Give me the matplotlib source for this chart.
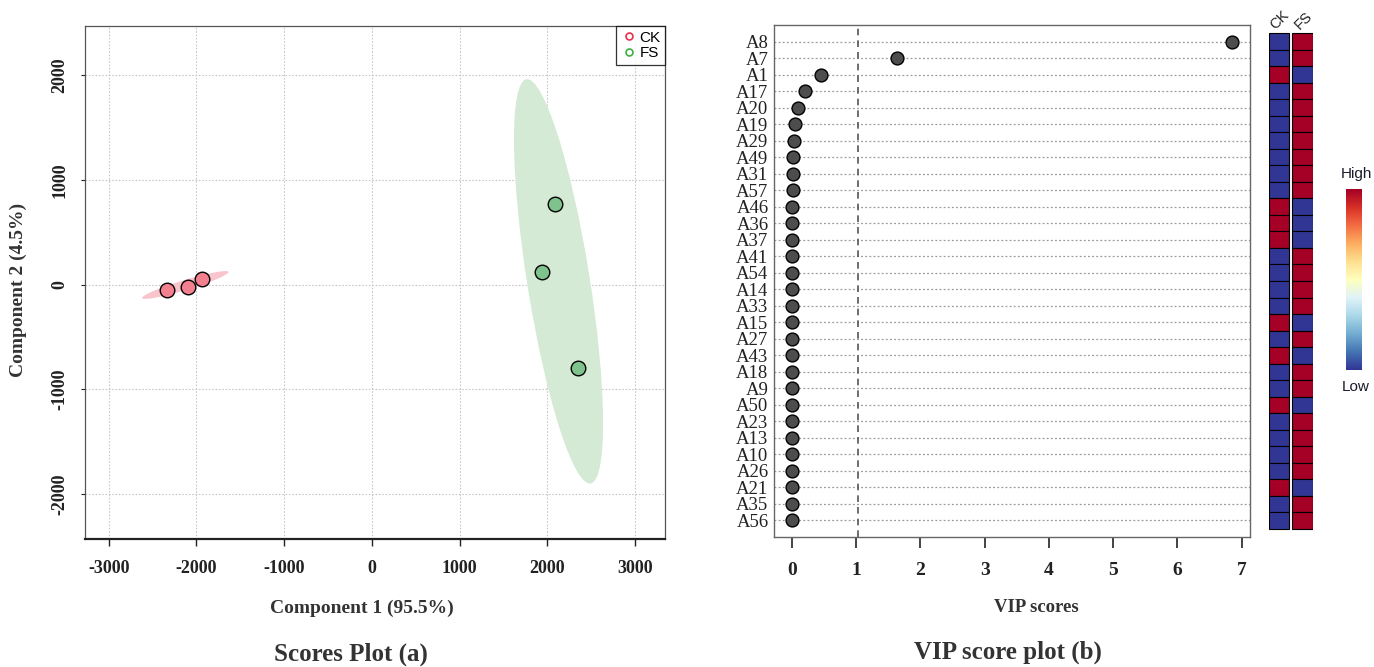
import numpy as np
import matplotlib
matplotlib.use("Agg")
import matplotlib.pyplot as plt
from matplotlib.patches import Ellipse
from matplotlib.lines import Line2D

# ---------------- data ----------------
ck_x = [-2340, -2100, -1940]
ck_y = [-48, -20, 57]
fs_x = [2090, 1940, 2350]
fs_y = [770, 124, -800]

score_xticks = [-3000, -2000, -1000, 0, 1000, 2000, 3000]
score_yticks = [-2000, -1000, 0, 1000, 2000]

features = ["A8", "A7", "A1", "A17", "A20", "A19", "A29", "A49", "A31", "A57",
            "A46", "A36", "A37", "A41", "A54", "A14", "A33", "A15", "A27", "A43",
            "A18", "A9", "A50", "A23", "A13", "A10", "A26", "A21", "A35", "A56"]
vip = [6.85, 1.64, 0.45, 0.20, 0.10, 0.05, 0.03, 0.016, 0.010, 0.009,
       0.007, 0.006, 0.006, 0.005, 0.005, 0.004, 0.004, 0.004, 0.003, 0.003,
       0.003, 0.003, 0.002, 0.002, 0.002, 0.002, 0.002, 0.001, 0.001, 0.001]
ck_level = [0, 0, 1, 0, 0, 0, 0, 0, 0, 0,
            1, 1, 1, 0, 0, 0, 0, 1, 0, 1,
            0, 0, 1, 0, 0, 0, 0, 1, 0, 0]
fs_level = [1, 1, 0, 1, 1, 1, 1, 1, 1, 1,
            0, 0, 0, 1, 1, 1, 1, 0, 1, 0,
            1, 1, 0, 1, 1, 1, 1, 0, 1, 1]
vip_threshold = 1.03
vip_xticks = [0, 1, 2, 3, 4, 5, 6, 7]

SERIF = "Liberation Serif"
SANS = "Liberation Sans"

fig = plt.figure(figsize=(13.74, 6.67), dpi=100)
W, H = 1374, 667


def fig_rect(x0, y0, x1, y1):
    return [x0 / W, 1 - y1 / H, (x1 - x0) / W, (y1 - y0) / H]


def conf_ellipse(ax, xs, ys, color):
    xs = np.asarray(xs, float)
    ys = np.asarray(ys, float)
    cov = np.cov(xs, ys)
    vals, vecs = np.linalg.eigh(cov)
    order = vals.argsort()[::-1]
    vals, vecs = vals[order], vecs[:, order]
    chi2 = 5.991
    ang = np.degrees(np.arctan2(vecs[1, 0], vecs[0, 0]))
    e = Ellipse((xs.mean(), ys.mean()), 2 * np.sqrt(chi2 * vals[0]),
                2 * np.sqrt(chi2 * vals[1]), angle=ang,
                facecolor=color, edgecolor="none", zorder=1)
    ax.add_patch(e)


# ---------------- scores plot ----------------
ax1 = fig.add_axes(fig_rect(85, 26, 665, 539))
ax1.set_xlim(-3270, 3340)
ax1.set_ylim(-2430, 2470)
for v in score_xticks:
    ax1.axvline(v, color="#c8c8c8", lw=0.8, ls=(0, (1.5, 1.5)), zorder=0)
for v in score_yticks:
    ax1.axhline(v, color="#c8c8c8", lw=0.8, ls=(0, (1.5, 1.5)), zorder=0)

conf_ellipse(ax1, ck_x, ck_y, "#f9c4cc")
conf_ellipse(ax1, fs_x, fs_y, "#d4ead4")
ax1.scatter(ck_x, ck_y, s=110, facecolor="#f3808e", edgecolor="black", lw=1.0, zorder=3)
ax1.scatter(fs_x, fs_y, s=110, facecolor="#7dc38b", edgecolor="black", lw=1.0, zorder=3)

ax1.set_xticks(score_xticks)
ax1.set_xticklabels([str(v) for v in score_xticks], fontfamily=SERIF,
                    fontweight="bold", fontsize=13)
ax1.set_yticks(score_yticks)
ax1.set_yticklabels([str(v) for v in score_yticks], fontfamily=SERIF,
                    fontweight="bold", fontsize=13, rotation=90, va="center")
ax1.tick_params(axis="x", length=5, width=1, pad=10, colors="#222222")
ax1.tick_params(axis="y", length=3, width=0.8, pad=9, colors="#222222")
for s in ["top", "right", "left"]:
    ax1.spines[s].set_color("#555555")
    ax1.spines[s].set_linewidth(0.9)
ax1.spines["bottom"].set_color("#222222")
ax1.spines["bottom"].set_linewidth(1.6)

handles = [Line2D([], [], ls="none", marker="o", ms=5, mfc="none", mec="#e8304a", mew=1.2),
           Line2D([], [], ls="none", marker="o", ms=5, mfc="none", mec="#3cb043", mew=1.2)]
leg = ax1.legend(handles, ["CK", "FS"], loc="upper right", borderaxespad=0,
                 prop={"family": SANS, "size": 11}, frameon=True, fancybox=False,
                 handletextpad=0.2, handlelength=1.0, borderpad=0.3, labelspacing=0.1)
leg.get_frame().set_edgecolor("black")
leg.get_frame().set_linewidth(0.9)

fig.text(362 / W, 1 - 608 / H, "Component 1 (95.5%)", ha="center", va="center",
         fontfamily=SERIF, fontweight="bold", fontsize=14, color="#333333")
fig.text(18 / W, 1 - 290 / H, "Component 2 (4.5%)", ha="center", va="center",
         rotation=90, fontfamily=SERIF, fontweight="bold", fontsize=14, color="#333333")
fig.text(351 / W, 1 - 654 / H, "Scores Plot (a)", ha="center", va="center",
         fontfamily=SERIF, fontweight="bold", fontsize=18, color="#333333")

# ---------------- VIP plot ----------------
n = len(features)
ypos = np.arange(n)[::-1] + 1
ax2 = fig.add_axes(fig_rect(774, 25, 1250, 537))
ax2.set_xlim(-0.28, 7.13)
ax2.set_ylim(0, n + 1)
for y in ypos:
    ax2.axhline(y, color="#9a9a9a", lw=0.9, ls=(0, (1.5, 1.8)), zorder=0)
ax2.axvline(vip_threshold, color="#555555", lw=1.2, ls=(0, (4, 3)), zorder=1)
ax2.scatter(vip, ypos, s=85, facecolor="#4d4d4d", edgecolor="black", lw=1.0, zorder=3)
ax2.set_yticks(ypos)
ax2.set_yticklabels(features, fontfamily=SERIF, fontsize=13.5, color="#222222")
ax2.tick_params(axis="y", length=0, pad=4)
ax2.set_xticks(vip_xticks)
ax2.set_xticklabels([str(v) for v in vip_xticks], fontfamily=SERIF,
                    fontweight="bold", fontsize=14)
ax2.tick_params(axis="x", length=8, width=1.2, pad=10, colors="#222222")
for s in ax2.spines.values():
    s.set_color("#666666")
    s.set_linewidth(1.0)

fig.text(1036 / W, 1 - 608 / H, "VIP scores", ha="center", va="center",
         fontfamily=SERIF, fontweight="bold", fontsize=13.5, color="#333333")
fig.text(1008 / W, 1 - 652 / H, "VIP score plot (b)", ha="center", va="center",
         fontfamily=SERIF, fontweight="bold", fontsize=18, color="#333333")

# ---------------- heatmap ----------------
cmap = plt.get_cmap("RdYlBu_r")
ax3 = fig.add_axes(fig_rect(1268.5, 25, 1313, 537))
ax3.set_xlim(0, 2.15)
ax3.set_ylim(0, n + 1)
ax3.barh(ypos, [1] * n, left=0, height=1, color=[cmap(float(v)) for v in ck_level],
         edgecolor="black", lw=0.8)
ax3.barh(ypos, [1] * n, left=1.15, height=1, color=[cmap(float(v)) for v in fs_level],
         edgecolor="black", lw=0.8)
ax3.axis("off")
ax3.text(0.55, n + 0.55, "CK", rotation=45, ha="center", va="bottom",
         fontfamily=SANS, fontsize=10.5, color="#222222")
ax3.text(1.7, n + 0.55, "FS", rotation=45, ha="center", va="bottom",
         fontfamily=SANS, fontsize=10.5, color="#222222")

# colour key
ax4 = fig.add_axes(fig_rect(1346, 189, 1362, 370))
grad = np.linspace(0, 1, 256).reshape(-1, 1)
ax4.imshow(grad, cmap=cmap, aspect="auto", origin="lower")
ax4.axis("off")
fig.text(1356 / W, 1 - 174 / H, "High", ha="center", va="center",
         fontfamily=SANS, fontsize=11, color="#1a1a2a")
fig.text(1356 / W, 1 - 387 / H, "Low", ha="center", va="center",
         fontfamily=SANS, fontsize=11, color="#1a1a2a")

fig.savefig("out.png", dpi=100)
